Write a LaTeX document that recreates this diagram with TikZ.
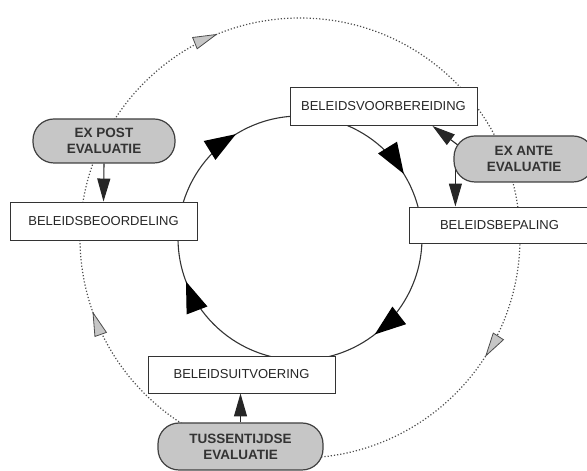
\documentclass[tikz,border=0pt]{standalone}
\usepackage{fontspec}
\setmainfont{Liberation Sans}
\usetikzlibrary{arrows.meta,decorations.markings,calc,backgrounds}
\begin{document}
\begin{tikzpicture}[x=1pt,y=1pt,
  stage/.style={draw=black!80, line width=0.9pt, fill=white, minimum height=38pt,
    minimum width=187pt, inner sep=0pt, font=\fontsize{13}{15}\selectfont, text=black!85},
  evalpill/.style={draw=black!75, line width=1.2pt, fill=gray!45, rounded corners=21pt,
    inner sep=0pt, align=center, font=\bfseries\fontsize{13.5}{16}\selectfont, text=black!80},
  feed/.style={draw=black!85, line width=1.1pt, -{Triangle[length=23pt,width=13pt]}},
  cycletip/.style={postaction={decorate}},
  bigtip/.tip={Triangle[length=31pt,width=22pt]},
  greytip/.tip={Triangle[length=25pt,width=13pt,fill=gray!45,line width=0.8pt]},
]
\useasboundingbox (0,0) rectangle (587,471);
\coordinate (c) at (300,233);

% policy stages
\node[stage] (voor)   at (383.5,364.5) {BELEIDSVOORBEREIDING};
\node[stage, minimum width=181pt, minimum height=36pt] (bep) at (499.5,246) {BELEIDSBEPALING};
\node[stage] (beoord) at (103.5,250) {BELEIDSBEOORDELING};
\node[stage, minimum height=37pt] (uitv) at (241.5,96.5) {BELEIDSUITVOERING};

% evaluation moments
\node[evalpill, minimum width=142pt, minimum height=44pt] (expost) at (104,330) {EX POST\\EVALUATIE};
\node[evalpill, minimum width=140pt, minimum height=46pt] (exante) at (524,312) {EX ANTE\\EVALUATIE};
\node[evalpill, minimum width=165pt, minimum height=47pt] (tuss) at (240.5,24.5) {TUSSENTIJDSE\\EVALUATIE};

% anchor points of the ex ante links
\coordinate (anteL) at ($(exante.west)+(23,0)$);
\coordinate (anteD) at ($(exante.west)+(2,0)$);
\coordinate (voorIn) at ($(voor.south east)+(-45,0)$);

\begin{pgfonlayer}{background}
  % outer evaluation cycle (dotted)
  \draw[gray!60!black, line width=1.2pt, dash pattern=on 1.2pt off 2pt,
        decoration={markings,
          mark=at position 0.341 with {\arrow[black!70]{greytip}},
          mark=at position 0.696 with {\arrow[black!70]{greytip}},
          mark=at position 0.939 with {\arrow[black!70]{greytip}}},
        cycletip]
    ($(c)+(90:220)$) arc[start angle=90, end angle=-270, radius=220];
  % inner policy cycle
  \draw[black!80, line width=1.1pt,
        decoration={markings,
          mark=at position 0.162 with {\arrow[black]{bigtip}},
          mark=at position 0.395 with {\arrow[black]{bigtip}},
          mark=at position 0.692 with {\arrow[black]{bigtip}},
          mark=at position 0.912 with {\arrow[black]{bigtip}}},
        cycletip]
    ($(c)+(90:122)$) arc[start angle=90, end angle=-270, radius=122];
  % ex ante evaluation feeding into preparation and decision
  \draw[feed] (anteL) -- (voorIn);
  \draw[feed] (anteD) -- (anteD |- bep.north);
\end{pgfonlayer}
\draw[feed] (expost.south) -- (beoord.north);
\draw[feed] (tuss.north) -- (tuss.north |- uitv.south);
\end{tikzpicture}
\end{document}
